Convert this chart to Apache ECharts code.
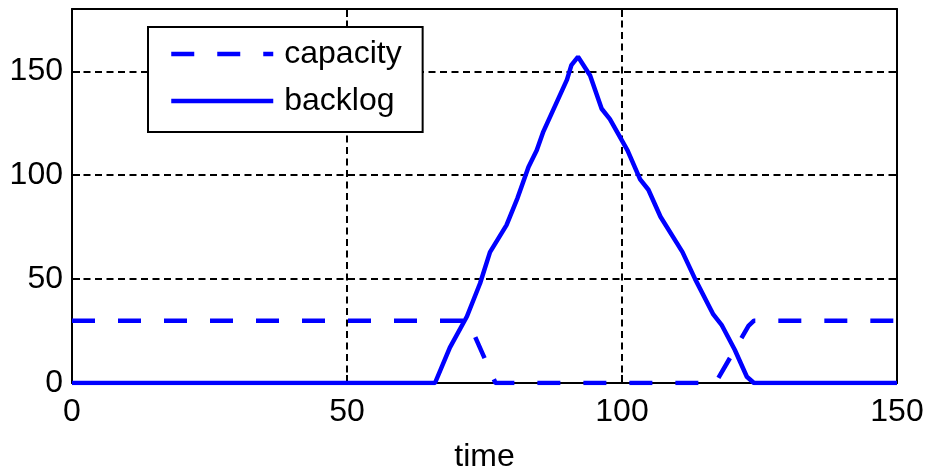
<!DOCTYPE html>
<html>
<head>
<meta charset="utf-8">
<script src="https://cdn.jsdelivr.net/npm/echarts@6/dist/echarts.min.js"></script>
<style>
  html, body { margin: 0; padding: 0; background: #fff; }
  #chart { width: 930px; height: 470px; }
</style>
</head>
<body>
<div id="chart"></div>
<script>
// capacity: constant level, shut off while the backlog is being worked down
const capacityTime  = [0, 72, 77, 117, 123, 124, 150];
const capacityValue = [30, 30, 0, 0, 27.5, 30, 30];

// backlog: builds up once capacity drops, then drains back to zero
const backlogTime  = [0, 66, 68.7, 71.8, 74.2, 76, 79, 81, 83, 84.5, 85.7, 90, 90.8, 92,
                      94.2, 96.3, 97.8, 101, 103.3, 104.8, 107, 111, 113.3, 116.6, 118.1,
                      120.5, 122.7, 124, 150];
const backlogValue = [0, 0, 17, 32, 48, 63, 76, 89, 104, 112, 121, 146, 153, 157,
                      148, 132, 127, 112, 98, 93, 80, 63, 50, 33, 28,
                      16, 3, 0, 0];

const xTicks = { min: 0, max: 150, interval: 50 };
const yTicks = { min: 0, max: 180, interval: 50 };

const FONT = 'Liberation Sans, Arial, sans-serif';
const BLUE = '#0000ff';
const LINE_W = 4.5;
const DASH = [23, 23];

const pairs = (xs, ys) => xs.map((x, i) => [x, ys[i]]);

const frameLine = { show: true, onZero: false, lineStyle: { color: '#000', width: 2 } };
const innerTick = { show: true, inside: true, length: 8, lineStyle: { color: '#000', width: 2 } };
const gridDash = { show: true, lineStyle: { color: '#000', width: 2, type: [7, 4.5] } };
const tickText = { color: '#000', fontSize: 32, fontFamily: FONT };

const chart = echarts.init(document.getElementById('chart'), null, { renderer: 'canvas' });

chart.setOption({
  animation: false,
  backgroundColor: '#fff',
  grid: { left: 72, right: 33, top: 9, bottom: 87, containLabel: false, outerBoundsMode: 'none' },
  legend: {
    orient: 'vertical',
    left: 148,
    top: 27,
    padding: [11, 21, 15, 21],
    itemGap: 15,
    itemWidth: 102,
    itemHeight: 20,
    backgroundColor: '#fff',
    borderColor: '#000',
    borderWidth: 2,
    borderRadius: 0,
    // line-only keys: the marker symbol is made fully transparent
    itemStyle: { opacity: 0, borderWidth: 0 },
    textStyle: { color: '#000', fontSize: 32, fontFamily: FONT, padding: [0, 0, 0, 6] },
    data: [
      { name: 'capacity', lineStyle: { width: LINE_W, type: DASH, color: BLUE } },
      { name: 'backlog', lineStyle: { width: LINE_W, type: 'solid', color: BLUE } }
    ]
  },
  xAxis: [
    {
      type: 'value', position: 'bottom',
      min: xTicks.min, max: xTicks.max, interval: xTicks.interval,
      axisLine: frameLine, axisTick: innerTick,
      axisLabel: Object.assign({ margin: 13 }, tickText),
      splitLine: gridDash,
      name: 'time', nameLocation: 'middle', nameGap: 58,
      nameTextStyle: { color: '#000', fontSize: 32, fontFamily: FONT }
    },
    {
      type: 'value', position: 'top',
      min: xTicks.min, max: xTicks.max, interval: xTicks.interval,
      axisLine: frameLine, axisTick: innerTick,
      axisLabel: { show: false }, splitLine: { show: false }
    }
  ],
  yAxis: [
    {
      type: 'value', position: 'left',
      min: yTicks.min, max: yTicks.max, interval: yTicks.interval,
      axisLine: frameLine, axisTick: innerTick,
      axisLabel: Object.assign({ margin: 9, showMaxLabel: false,
        formatter: v => (v % yTicks.interval === 0 ? String(v) : '') }, tickText),
      splitLine: gridDash
    },
    {
      type: 'value', position: 'right',
      min: yTicks.min, max: yTicks.max, interval: yTicks.interval,
      axisLine: frameLine, axisTick: innerTick,
      axisLabel: { show: false }, splitLine: { show: false }
    }
  ],
  series: [
    {
      name: 'capacity', type: 'line', xAxisIndex: 0, yAxisIndex: 0,
      data: pairs(capacityTime, capacityValue),
      symbol: 'none', showSymbol: false,
      lineStyle: { color: BLUE, width: LINE_W, type: DASH, cap: 'butt' },
      itemStyle: { color: BLUE },
      z: 3
    },
    {
      name: 'backlog', type: 'line', xAxisIndex: 0, yAxisIndex: 0,
      data: pairs(backlogTime, backlogValue),
      symbol: 'none', showSymbol: false,
      lineStyle: { color: BLUE, width: LINE_W, type: 'solid' },
      itemStyle: { color: BLUE },
      z: 3
    }
  ]
});
</script>
</body>
</html>
